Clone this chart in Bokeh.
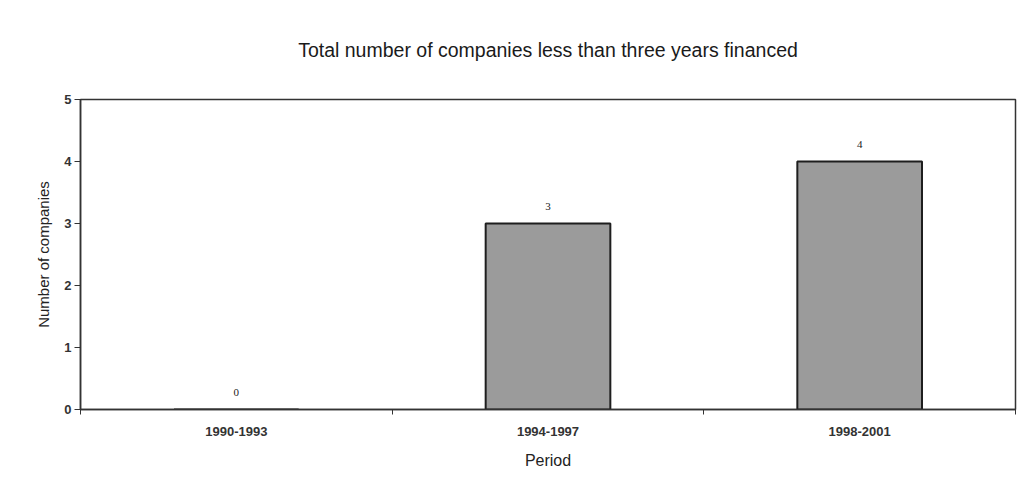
from bokeh.plotting import figure
from bokeh.models import ColumnDataSource, LabelSet, FixedTicker, Range1d
from bokeh.embed import file_html
from bokeh.resources import INLINE

periods = ["1990-1993", "1994-1997", "1998-2001"]
companies = [0, 3, 4]
y_ticks = [0, 1, 2, 3, 4, 5]

xs = [i + 0.5 for i in range(len(periods))]
src = ColumnDataSource(dict(x=xs, y=companies, lab=[str(v) for v in companies]))

p = figure(width=1019, height=485, output_backend="svg", toolbar_location=None,
           x_range=Range1d(0, len(periods)), y_range=Range1d(0, 5),
           title="Total number of companies less than three years financed")
p.min_border_left = 80
p.min_border_right = 4
p.min_border_top = 99
p.min_border_bottom = 76

p.title.text_font = "Liberation Sans"
p.title.text_font_size = "19.5px"
p.title.text_font_style = "normal"
p.title.align = "center"
p.title.offset = -24
p.title.standoff = 74
p.title.vertical_align = "top"
p.title.text_color = "#1a1a1a"

p.vbar(x="x", top="y", width=0.4, source=src, fill_color="#9b9b9b",
       line_color="#1e1e1e", line_width=2)

labels = LabelSet(x="x", y="y", text="lab", source=src, y_offset=14,
                  text_align="center", text_font_size="11px",
                  text_font="Liberation Sans", text_color="#222222")
p.add_layout(labels)

p.xgrid.visible = False
p.ygrid.visible = False
p.outline_line_color = "#333333"
p.outline_line_width = 1.5
p.background_fill_color = "white"
p.border_fill_color = "white"

p.xaxis.ticker = FixedTicker(ticks=xs, minor_ticks=list(range(len(periods) + 1)))
p.xaxis.major_label_overrides = {x: lab for x, lab in zip(xs, periods)}
p.xaxis.major_tick_out = 0
p.xaxis.major_tick_in = 0
p.xaxis.minor_tick_out = 5
p.xaxis.minor_tick_in = 0
p.xaxis.minor_tick_line_color = "#333333"
p.xaxis.axis_line_color = "#333333"
p.xaxis.axis_line_width = 1.5
p.xaxis.major_label_text_font = "Liberation Sans"
p.xaxis.major_label_text_font_size = "13px"
p.xaxis.major_label_text_font_style = "bold"
p.xaxis.major_label_text_color = "#333333"
p.xaxis.major_label_standoff = 12
p.xaxis.axis_label = "Period"
p.xaxis.axis_label_text_font = "Liberation Sans"
p.xaxis.axis_label_text_font_size = "16px"
p.xaxis.axis_label_text_font_style = "normal"
p.xaxis.axis_label_text_color = "#222222"
p.xaxis.axis_label_standoff = 13

p.yaxis.ticker = FixedTicker(ticks=y_ticks)
p.yaxis.minor_tick_line_color = None
p.yaxis.major_tick_out = 6
p.yaxis.major_tick_in = 0
p.yaxis.major_tick_line_color = "#333333"
p.yaxis.axis_line_color = "#333333"
p.yaxis.axis_line_width = 1.5
p.yaxis.major_label_text_font = "Liberation Sans"
p.yaxis.major_label_text_font_size = "13px"
p.yaxis.major_label_text_font_style = "bold"
p.yaxis.major_label_text_color = "#333333"
p.yaxis.major_label_standoff = 3
p.yaxis.axis_label = "Number of companies"
p.yaxis.axis_label_text_font = "Liberation Sans"
p.yaxis.axis_label_text_font_size = "15px"
p.yaxis.axis_label_text_font_style = "normal"
p.yaxis.axis_label_text_color = "#222222"
p.yaxis.axis_label_standoff = 9

open("out.html", "w").write(file_html(p, INLINE))
